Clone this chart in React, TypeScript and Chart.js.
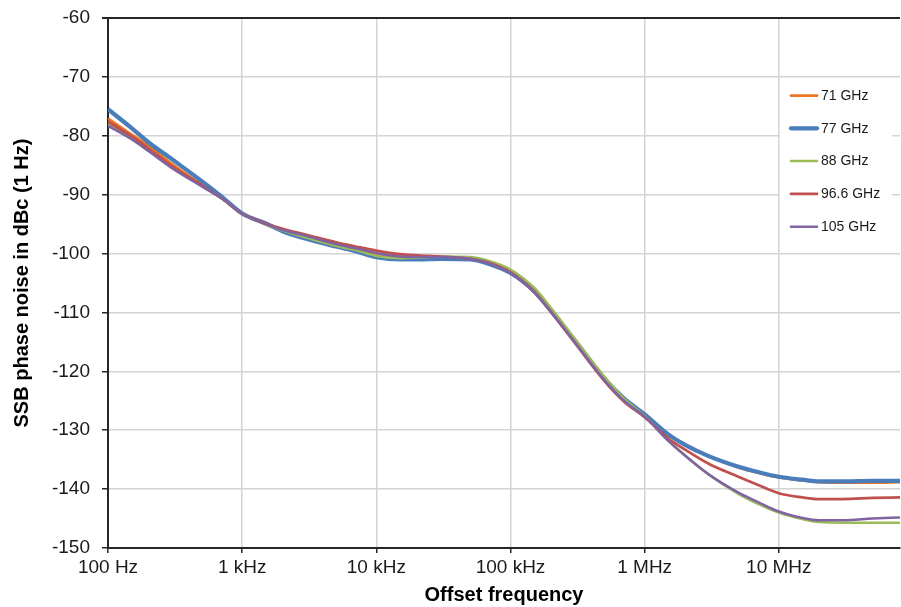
import React, { useEffect, useRef } from "react";
import { Chart, registerables } from "chart.js";

Chart.register(...registerables);

// Offset frequency in Hz
const FREQ_HZ = [
  100, 150, 200, 300, 500, 700,
  1e3, 1.5e3, 2e3, 3e3, 5e3, 7e3,
  1e4, 1.5e4, 2e4, 3e4, 5e4, 7e4,
  1e5, 1.5e5, 2e5, 3e5, 5e5, 7e5,
  1e6, 1.5e6, 2e6, 3e6, 5e6, 7e6,
  1e7, 1.5e7, 2e7, 3e7, 5e7, 8e7,
];

const SERIES_NAMES = ["71 GHz", "77 GHz", "88 GHz", "96.6 GHz", "105 GHz"];

// SSB phase noise in dBc (1 Hz)
const NOISE_71 = [
  -77.1, -79.8, -81.7, -84.8, -88.3, -90.5,
  -93.2, -95.0, -96.0, -97.1, -98.5, -99.2,
  -100.0, -100.5, -100.6, -100.6, -100.9, -101.7,
  -103.2, -106.4, -109.8, -114.9, -121.3, -124.8,
  -127.4, -130.8, -132.5, -134.4, -136.3, -137.2,
  -138.0, -138.5, -138.8, -138.9, -138.9, -138.8,
];
const NOISE_77 = [
  -75.5, -78.7, -81.1, -84.0, -87.7, -90.3,
  -93.2, -94.9, -96.2, -97.5, -98.8, -99.6,
  -100.6, -101.0, -101.0, -100.9, -101.0, -101.8,
  -103.3, -106.4, -109.7, -114.7, -121.2, -124.6,
  -127.3, -130.7, -132.5, -134.4, -136.2, -137.1,
  -137.9, -138.4, -138.7, -138.7, -138.6, -138.6,
];
const NOISE_88 = [
  -78.0, -80.4, -82.4, -85.3, -88.5, -90.6,
  -93.2, -95.1, -96.1, -97.3, -98.7, -99.4,
  -100.4, -100.8, -100.7, -100.5, -100.6, -101.3,
  -102.7, -105.8, -109.2, -114.4, -120.9, -124.6,
  -127.6, -131.7, -134.3, -137.5, -140.8, -142.5,
  -144.0, -145.1, -145.6, -145.7, -145.7, -145.7,
];
const NOISE_96_6 = [
  -77.6, -80.1, -82.2, -85.2, -88.4, -90.6,
  -93.2, -94.9, -95.8, -96.8, -98.1, -98.8,
  -99.5, -100.1, -100.3, -100.5, -100.9, -101.6,
  -103.2, -106.5, -109.9, -115.1, -121.6, -125.1,
  -127.8, -131.4, -133.3, -135.7, -137.9, -139.3,
  -140.7, -141.4, -141.7, -141.7, -141.5, -141.4,
];
const NOISE_105 = [
  -78.3, -80.6, -82.6, -85.5, -88.6, -90.6,
  -93.2, -95.0, -96.0, -97.0, -98.4, -99.1,
  -99.9, -100.5, -100.6, -100.6, -100.9, -101.7,
  -103.3, -106.6, -109.9, -115.0, -121.5, -125.0,
  -127.7, -131.8, -134.3, -137.5, -140.6, -142.2,
  -143.8, -144.9, -145.3, -145.3, -145.0, -144.8,
];

const SERIES_VALUES = [NOISE_71, NOISE_77, NOISE_88, NOISE_96_6, NOISE_105];
const SERIES_COLORS = ["#EB7424", "#4A7EBB", "#9BBB59", "#C0504D", "#8064A2"];
const SERIES_WIDTHS = [2.75, 4.25, 2.5, 2.75, 2.5];

const X_TICKS = [1e2, 1e3, 1e4, 1e5, 1e6, 1e7];
const X_TICK_LABELS = ["100 Hz", "1 kHz", "10 kHz", "100 kHz", "1 MHz", "10 MHz"];
const X_MIN = 100;
const X_MAX = 8e7;
const Y_MIN = -150;
const Y_MAX = -60;
const Y_STEP = 10;

const X_TITLE = "Offset frequency";
const Y_TITLE = "SSB phase noise in dBc (1 Hz)";

const FONT = "'Liberation Sans', Arial, sans-serif";

const legendPlugin = {
  id: "customLegend",
  afterDraw(chart: any) {
    const ctx = chart.ctx;
    ctx.save();
    ctx.fillStyle = "#ffffff";
    ctx.fillRect(780, 80, 112, 162);
    ctx.font = `14px ${FONT}`;
    ctx.textBaseline = "middle";
    ctx.textAlign = "left";
    SERIES_NAMES.forEach((name, i) => {
      const y = 95.5 + i * 32.8;
      ctx.strokeStyle = SERIES_COLORS[i];
      ctx.lineWidth = SERIES_WIDTHS[i];
      ctx.lineCap = "round";
      ctx.beginPath();
      ctx.moveTo(791, y);
      ctx.lineTo(817, y);
      ctx.stroke();
      ctx.fillStyle = "#1a1a1a";
      ctx.fillText(name, 821, y + 0.5);
    });
    ctx.restore();
  },
};

export default function App() {
  const canvasRef = useRef<HTMLCanvasElement | null>(null);

  useEffect(() => {
    const canvas = canvasRef.current;
    if (!canvas) return;
    const datasets = SERIES_NAMES.map((name, i) => ({
      label: name,
      data: FREQ_HZ.map((f, j) => ({ x: f, y: SERIES_VALUES[i][j] })),
      borderColor: SERIES_COLORS[i],
      backgroundColor: SERIES_COLORS[i],
      borderWidth: SERIES_WIDTHS[i],
      pointRadius: 0,
      cubicInterpolationMode: "monotone",
      fill: false,
      order: SERIES_NAMES.length - i,
    }));

    const chart = new Chart(canvas, {
      type: "line",
      data: { datasets },
      plugins: [legendPlugin],
      options: {
        animation: false,
        responsive: false,
        devicePixelRatio: 1,
        layout: { padding: { left: 0, top: 18, right: 1, bottom: 0 } },
        plugins: {
          legend: { display: false },
          tooltip: { enabled: false },
          title: { display: false },
        },
        scales: {
          x: {
            type: "logarithmic",
            min: X_MIN,
            max: X_MAX,
            afterBuildTicks: (scale: any) => {
              scale.ticks = X_TICKS.map((v) => ({ value: v }));
            },
            afterFit: (scale: any) => {
              scale.height = 59;
              scale.paddingLeft = 0;
              scale.paddingRight = 0;
            },
            ticks: {
              autoSkip: false,
              maxRotation: 0,
              padding: 3,
              color: "#1a1a1a",
              font: { family: FONT, size: 19 },
              callback: (value: any) => {
                const idx = X_TICKS.indexOf(Number(value));
                return idx >= 0 ? X_TICK_LABELS[idx] : "";
              },
            },
            grid: {
              color: "#d4d4d4",
              lineWidth: 1.5,
              tickLength: 5,
              tickColor: "#262626",
              drawTicks: true,
            },
            border: { display: true, color: "#262626", width: 2 },
            title: {
              display: true,
              text: X_TITLE,
              color: "#000000",
              font: { family: FONT, size: 20, weight: "bold" },
              padding: { top: 0, bottom: 0 },
            },
          },
          y: {
            type: "linear",
            min: Y_MIN,
            max: Y_MAX,
            afterFit: (scale: any) => {
              scale.width = 108;
              scale.paddingTop = 0;
              scale.paddingBottom = 0;
            },
            ticks: {
              stepSize: Y_STEP,
              padding: 12,
              color: "#1a1a1a",
              font: { family: FONT, size: 19 },
            },
            grid: {
              color: (ctx: any) =>
                ctx.tick && ctx.tick.value === Y_MAX ? "#262626" : "#d4d4d4",
              lineWidth: (ctx: any) =>
                ctx.tick && ctx.tick.value === Y_MAX ? 2 : 1.5,
              tickLength: 6,
              tickColor: "#262626",
            },
            border: { display: true, color: "#262626", width: 2 },
            title: {
              display: true,
              text: Y_TITLE,
              color: "#000000",
              font: { family: FONT, size: 20, weight: "bold" },
              padding: { top: 10, bottom: 0 },
            },
          },
        },
      } as any,
    });
    return () => chart.destroy();
  }, []);

  return (
    <div style={{ position: "fixed", left: 0, top: 0, width: 901, height: 607, background: "#ffffff" }}>
      <canvas ref={canvasRef} width={901} height={607} />
    </div>
  );
}
